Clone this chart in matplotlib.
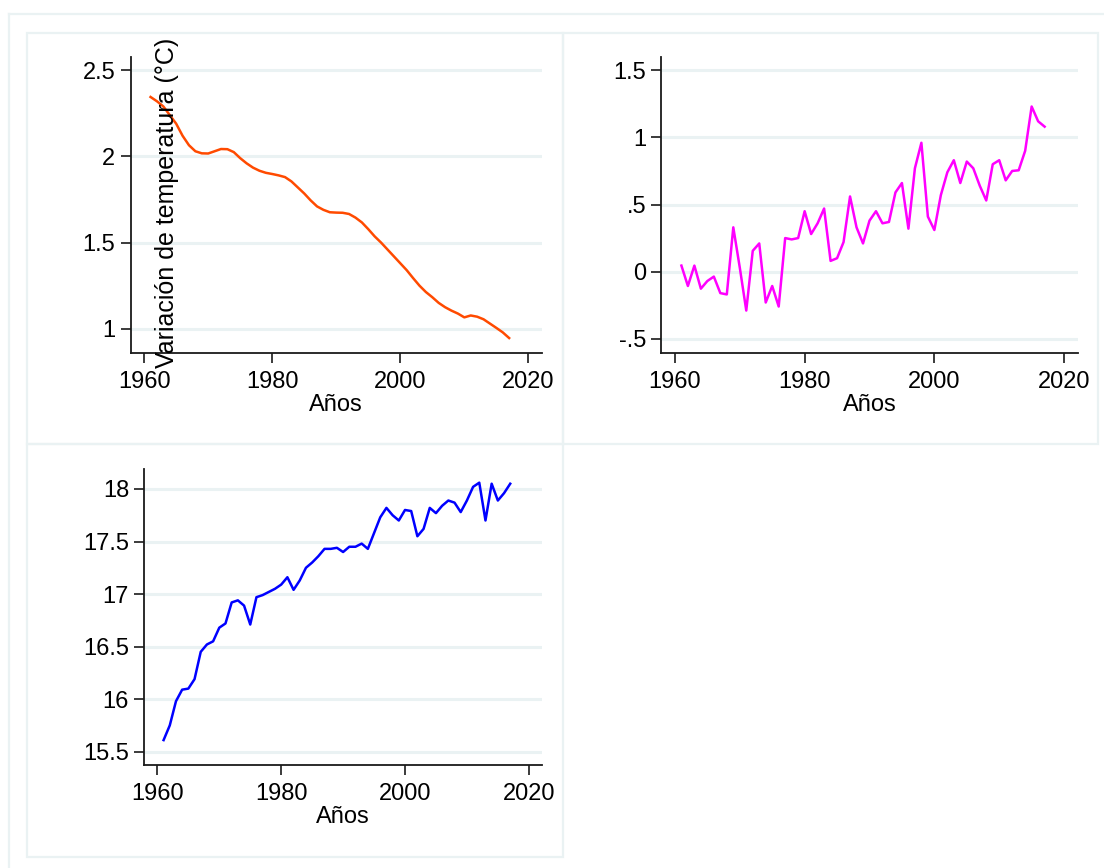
import matplotlib
matplotlib.use("Agg")
import matplotlib.pyplot as plt
from matplotlib.patches import Rectangle
from matplotlib.lines import Line2D

plt.rcParams['font.family'] = ['Liberation Sans', 'DejaVu Sans']

years = list(range(1961, 2018))

# smoothed temperature variation (panel 1)
variacion = [2.345, 2.32, 2.29, 2.24, 2.19, 2.12, 2.065, 2.03, 2.018, 2.017,
             2.03, 2.043, 2.042, 2.025, 1.99, 1.96, 1.935, 1.917, 1.905, 1.898,
             1.89, 1.88, 1.855, 1.82, 1.785, 1.745, 1.71, 1.69, 1.676, 1.674,
             1.673, 1.666, 1.645, 1.617, 1.578, 1.536, 1.5, 1.46, 1.42, 1.38,
             1.34, 1.294, 1.25, 1.213, 1.183, 1.15, 1.125, 1.105, 1.088, 1.066,
             1.077, 1.07, 1.055, 1.03, 1.005, 0.979, 0.946]

# anomaly (panel 2)
anomalia = [0.045, -0.107, 0.045, -0.127, -0.07, -0.037, -0.16, -0.17, 0.33, 0.03,
            -0.29, 0.155, 0.21, -0.23, -0.107, -0.26, 0.25, 0.24, 0.25, 0.45,
            0.28, 0.36, 0.47, 0.08, 0.10, 0.22, 0.56, 0.33, 0.21, 0.38,
            0.45, 0.36, 0.37, 0.59, 0.66, 0.32, 0.77, 0.96, 0.41, 0.31,
            0.57, 0.74, 0.83, 0.66, 0.82, 0.77, 0.64, 0.53, 0.80, 0.83,
            0.68, 0.75, 0.755, 0.90, 1.23, 1.12, 1.08]

# mean temperature (panel 3)
temperatura = [15.61, 15.75, 15.98, 16.09, 16.10, 16.19, 16.45, 16.52, 16.55, 16.68,
               16.72, 16.92, 16.94, 16.89, 16.71, 16.97, 16.99, 17.02, 17.05, 17.09,
               17.16, 17.04, 17.13, 17.25, 17.30, 17.36, 17.43, 17.43, 17.44, 17.40,
               17.45, 17.45, 17.48, 17.43, 17.58, 17.73, 17.82, 17.75, 17.70, 17.80,
               17.79, 17.55, 17.62, 17.82, 17.77, 17.84, 17.89, 17.87, 17.78, 17.89,
               18.02, 18.06, 17.70, 18.05, 17.89, 17.96, 18.05]

xticks = [1960, 1980, 2000, 2020]
yticks1 = [1, 1.5, 2, 2.5]
ylabels1 = ['1', '1.5', '2', '2.5']
yticks2 = [-0.5, 0, 0.5, 1, 1.5]
ylabels2 = ['-.5', '0', '.5', '1', '1.5']
yticks3 = [15.5, 16, 16.5, 17, 17.5, 18]
ylabels3 = ['15.5', '16', '16.5', '17', '17.5', '18']

W, H = 1104, 868
fig = plt.figure(figsize=(W / 100, H / 100), dpi=100)
fig.patch.set_facecolor('white')

frame_col = '#EAF2F3'


def px_rect(x0, y0, x1, y1):
    return [x0 / W, 1 - y1 / H, (x1 - x0) / W, (y1 - y0) / H]


# outer border and panel frames
fig.add_artist(Line2D([9 / W, 1], [1 - 14 / H, 1 - 14 / H], color=frame_col, lw=1.6))
fig.add_artist(Line2D([9 / W, 9 / W], [0, 1 - 14 / H], color=frame_col, lw=1.6))
for (x0, y0, x1, y1) in [(27, 33, 563, 444), (563, 33, 1098, 444), (27, 444, 563, 857)]:
    fig.add_artist(Rectangle((x0 / W, 1 - y1 / H), (x1 - x0) / W, (y1 - y0) / H,
                             fill=False, ec=frame_col, lw=1.6, transform=fig.transFigure))


def style(ax, yt, yl, ylim):
    ax.set_xlim(1957.9, 2022.1)
    ax.set_ylim(*ylim)
    ax.set_xticks(xticks)
    ax.set_yticks(yt)
    ax.set_yticklabels(yl)
    for s in ['top', 'right']:
        ax.spines[s].set_visible(False)
    for s in ['left', 'bottom']:
        ax.spines[s].set_color('#1a1a1a')
        ax.spines[s].set_linewidth(1.3)
    ax.tick_params(axis='x', length=7, width=1.2, color='#1a1a1a', labelsize=17, pad=6)
    ax.tick_params(axis='y', length=7, width=1.2, color='#1a1a1a', labelsize=17, pad=4)
    ax.yaxis.grid(True, color=frame_col, lw=2.2)
    ax.set_axisbelow(True)
    ax.set_xlabel('Años', fontsize=17, labelpad=1)


ax1 = fig.add_axes(px_rect(130.7, 57, 541.8, 352.7))
ax1.plot(years, variacion, color='#FF4A00', lw=1.8)
style(ax1, yticks1, ylabels1, (0.861, 2.577))

ax2 = fig.add_axes(px_rect(661.3, 57, 1077.7, 352.7))
ax2.plot(years, anomalia, color='#FF00FF', lw=1.8)
style(ax2, yticks2, ylabels2, (-0.604, 1.599))

ax3 = fig.add_axes(px_rect(144.4, 469, 541.8, 765))
ax3.plot(years, temperatura, color='#0000FF', lw=1.8)
style(ax3, yticks3, ylabels3, (15.373, 18.19))

fig.text(167 / W, 1 - 203 / H, 'Variación de temperatura (°C)', rotation=90,
         ha='center', va='center', fontsize=18)

fig.savefig('out.png', dpi=100, facecolor='white')
